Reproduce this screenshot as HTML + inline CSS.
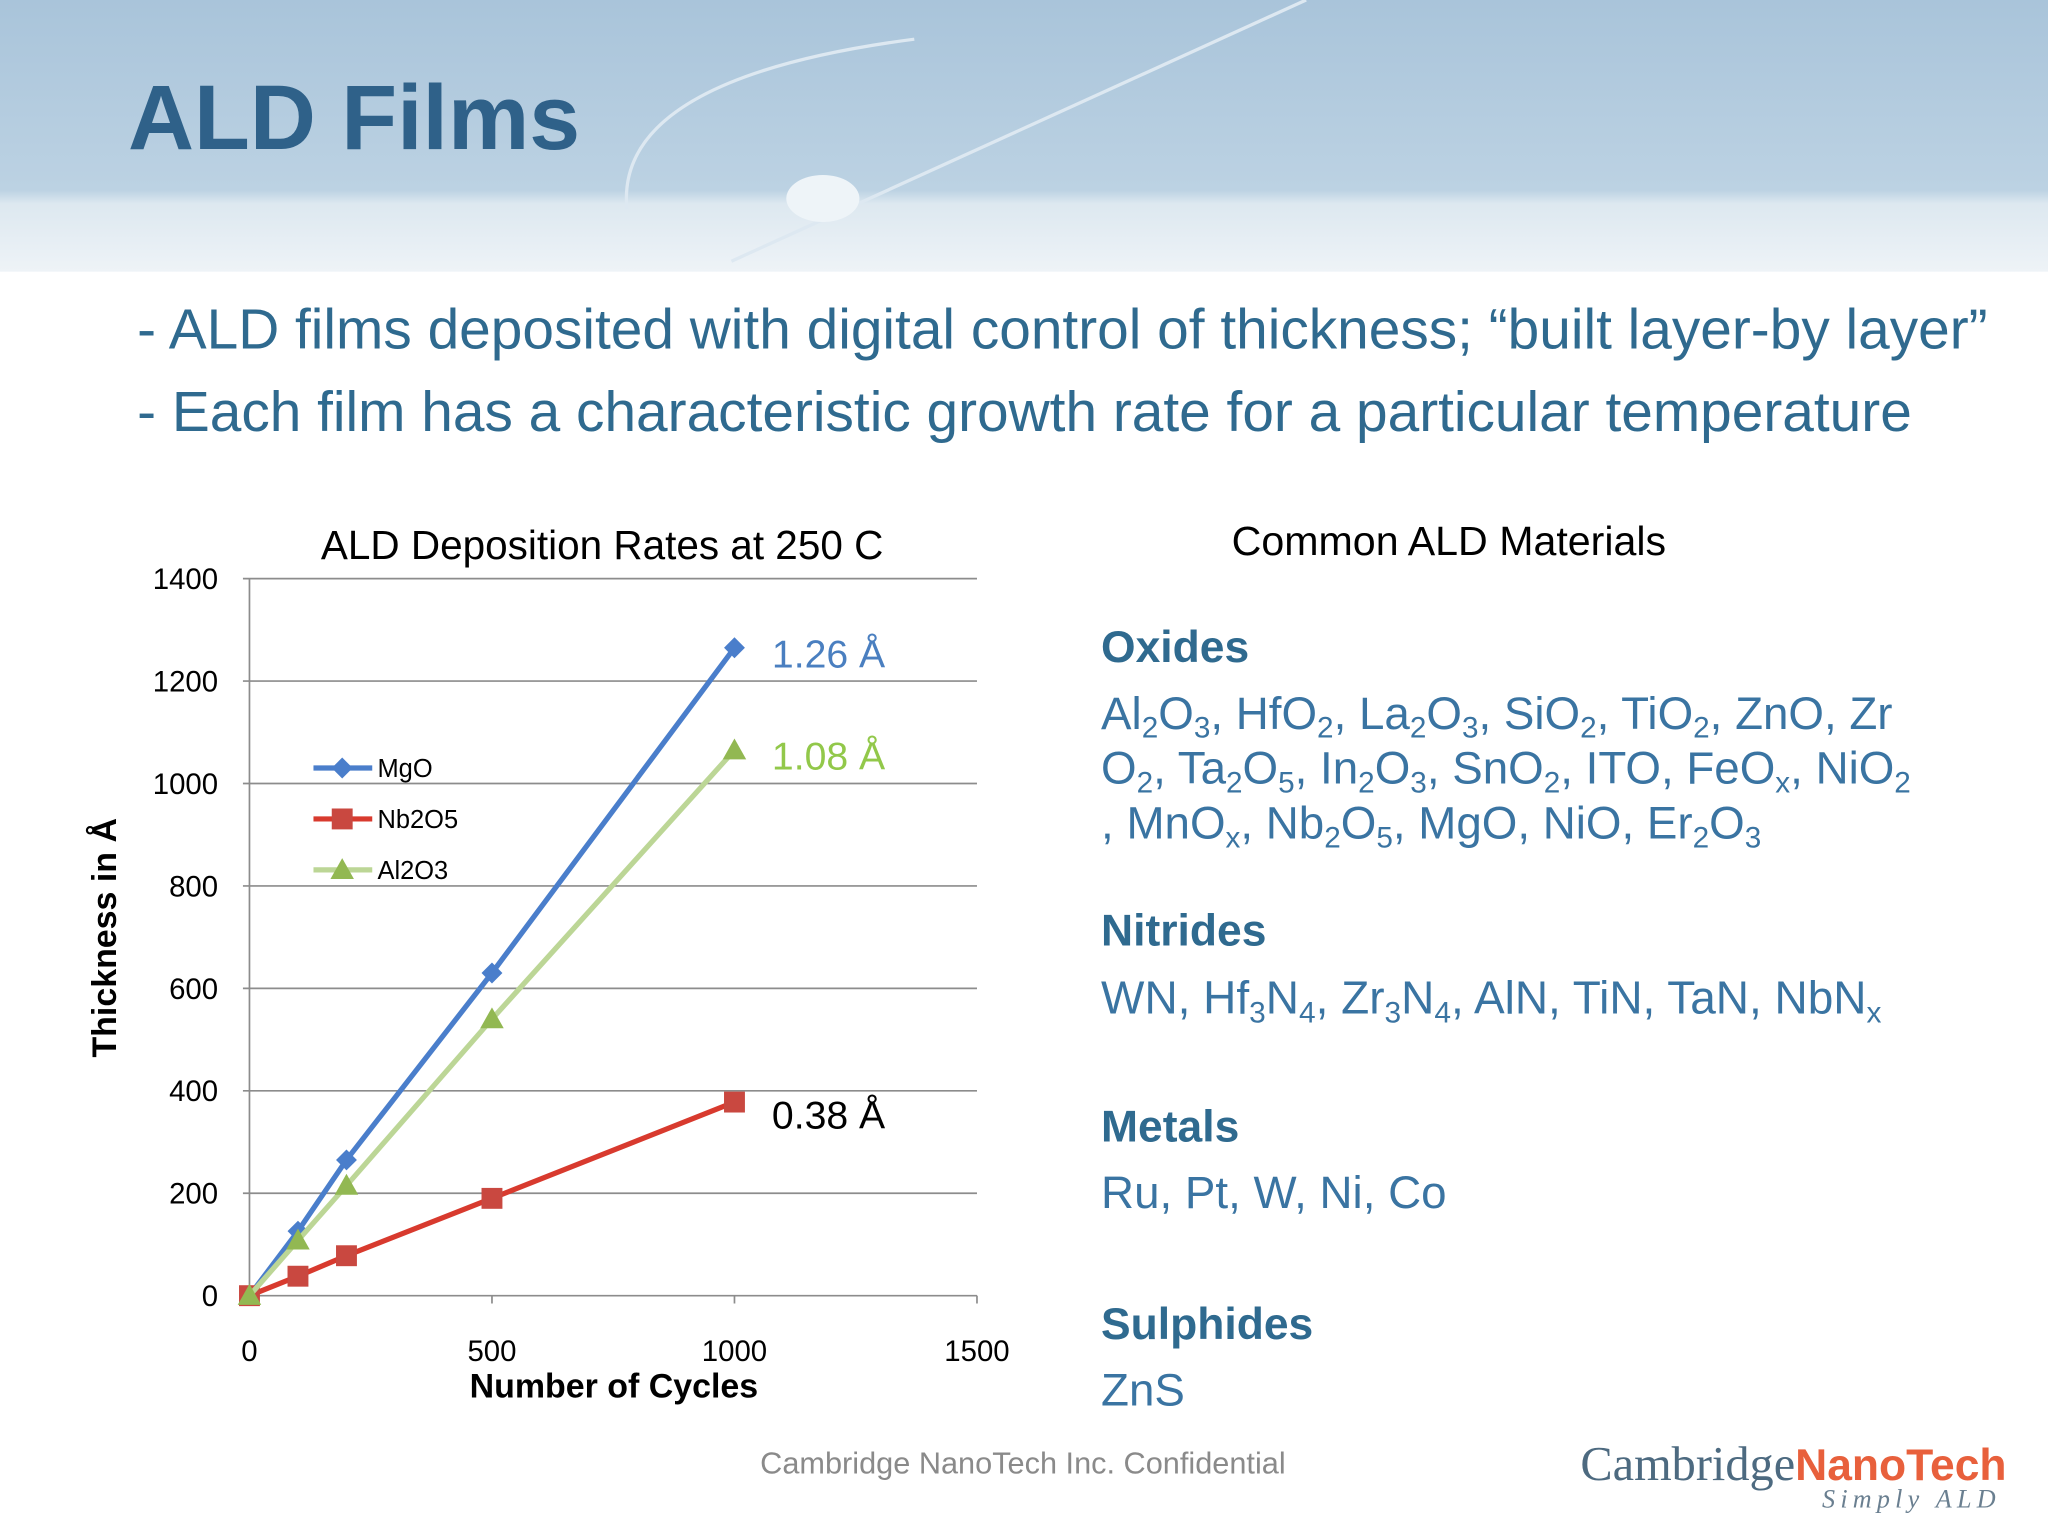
<!DOCTYPE html>
<html><head><meta charset="utf-8"><style>
body{margin:0;width:2048px;height:1536px;overflow:hidden;background:#fff;font-family:"Liberation Sans",sans-serif}
#s{position:absolute;left:0;top:0;width:1568px;height:1176px;transform:scale(1.306122);transform-origin:0 0}
.a{position:absolute;white-space:nowrap}
.h{color:#2f6a8f;font-weight:bold;font-size:34px}
.t{color:#3a74a2;font-size:35px;line-height:42px}
sub{font-size:65%;vertical-align:-0.3em;line-height:0}
</style></head><body>
<div id="s">
<div class="a" style="left:0;top:0;width:1568px;height:208px;background:linear-gradient(180deg,#a9c4da 0%,#bcd2e3 70%,#dde8f0 75%,#eef3f7 100%)"></div>
<svg class="a" style="left:0;top:0" width="1568" height="208">
<path d="M480 160 Q470 60 700 30" stroke="#dde8f1" stroke-width="2.5" fill="none"/>
<path d="M560 200 L1000 0" stroke="#dde8f1" stroke-width="2.5"/>
<ellipse cx="630" cy="152" rx="28" ry="18" fill="#eef4f8"/></svg>
<div class="a" style="left:98px;top:50px;font-size:70px;font-weight:bold;color:#2f6189">ALD Films</div>
<div class="a" style="left:105px;top:229px;font-size:43.5px;color:#2f6a8f">- ALD films deposited with digital control of thickness; “built layer-by layer”</div>
<div class="a" style="left:105px;top:292px;font-size:43.5px;color:#2f6a8f">- Each film has a characteristic growth rate for a particular temperature</div>
<svg id="chart" class="a" style="left:0;top:380px" width="800" height="720"></svg>
<div class="a" style="left:943px;top:396px;font-size:31.5px">Common ALD Materials</div>
<div class="a h" style="left:843px;top:477px">Oxides</div>
<div class="a t" style="left:843px;top:526px">Al<sub>2</sub>O<sub>3</sub>, HfO<sub>2</sub>, La<sub>2</sub>O<sub>3</sub>, SiO<sub>2</sub>, TiO<sub>2</sub>, ZnO, Zr<br>O<sub>2</sub>, Ta<sub>2</sub>O<sub>5</sub>, In<sub>2</sub>O<sub>3</sub>, SnO<sub>2</sub>, ITO, FeO<sub>x</sub>, NiO<sub>2</sub><br>, MnO<sub>x</sub>, Nb<sub>2</sub>O<sub>5</sub>, MgO, NiO, Er<sub>2</sub>O<sub>3</sub></div>
<div class="a h" style="left:843px;top:694px">Nitrides</div>
<div class="a t" style="left:843px;top:744px;font-size:35.2px">WN, Hf<sub>3</sub>N<sub>4</sub>, Zr<sub>3</sub>N<sub>4</sub>, AlN, TiN, TaN, NbN<sub>x</sub></div>
<div class="a h" style="left:843px;top:844px">Metals</div>
<div class="a t" style="left:843px;top:893px">Ru, Pt, W, Ni, Co</div>
<div class="a h" style="left:843px;top:995px">Sulphides</div>
<div class="a t" style="left:843px;top:1044px">ZnS</div>
<div class="a" style="left:582px;top:1107px;font-size:23.5px;color:#8a8a8a">Cambridge NanoTech Inc. Confidential</div>
<div class="a" style="left:1210px;top:1100px;font-family:'Liberation Serif',serif;font-size:37px;color:#4d6a80">Cambridge<span style="color:#e8603c;font-family:'Liberation Sans',sans-serif;font-weight:bold;font-size:34px">NanoTech</span></div>
<div class="a" style="left:1395px;top:1137px;font-family:'Liberation Serif',serif;font-style:italic;font-size:20px;letter-spacing:4px;color:#6a7f90">Simply ALD</div>
</div>
<script>
const cycles=[0,100,200,500,1000];
const mgo=[0,126,265,630,1265];
const nb=[0,38,78,190,378];
const al=[0,108,215,540,1065];
const yTicks=[0,200,400,600,800,1000,1200,1400];
const xTicks=[0,500,1000,1500];
const svg=document.getElementById('chart');const NS='http://www.w3.org/2000/svg';const OY=380;
const X=v=>191+v/1500*557, Y=v=>992-OY-v/1400*549;
function el(t,a,p){const e=document.createElementNS(NS,t);for(const k in a)e.setAttribute(k,a[k]);(p||svg).appendChild(e);return e;}
function txt(x,y,s,a){const e=el('text',Object.assign({x:x,y:y,'font-family':'Liberation Sans, sans-serif'},a));e.textContent=s;return e;}
yTicks.forEach(v=>{const g=el('line',{x1:186,x2:748,y1:Y(v),y2:Y(v),stroke:'#8c8c8c','stroke-width':1.3});


const t=txt(167,Y(v)+8,v,{'font-size':22.5,'text-anchor':'end'});

});
el('line',{x1:191,x2:191,y1:Y(1400),y2:Y(0)+6,stroke:'#8c8c8c','stroke-width':1.3});
xTicks.forEach(v=>{el('line',{x1:X(v),x2:X(v),y1:Y(0),y2:Y(0)+6,stroke:'#8c8c8c','stroke-width':1.3});
const t=txt(X(v),1042-OY,v,{'font-size':22.5,'text-anchor':'middle'});

});
const ct=txt(461,428-OY,'ALD Deposition Rates at 250  C',{'font-size':31,'text-anchor':'middle','xml:space':'preserve'});


const xt=txt(470,1070-OY,'Number of Cycles',{'font-size':26,'font-weight':'bold','text-anchor':'middle'});


const yt=txt(0,0,'Thickness in Å',{'font-size':26,'font-weight':'bold','text-anchor':'middle',transform:'translate(89 '+(718-OY)+') rotate(-90)'});


function marker(shape,x,y,c){if(shape==='d')return el('path',{d:`M${x} ${y-8}L${x+8} ${y}L${x} ${y+8}L${x-8} ${y}Z`,fill:c});
if(shape==='s')return el('rect',{x:x-8,y:y-8,width:16,height:16,fill:c});
return el('path',{d:`M${x} ${y-9}L${x+9} ${y+7}L${x-9} ${y+7}Z`,fill:c});}
const series=[[mgo,'#4a7ecb','d','MgO',588],[nb,'#d83a2e','s','Nb2O5',627],[al,'#bcd696','t','Al2O3',666]];
const mk={mgo:'#4a7ecb',nb:'#c94840',al:'#92b852'};
series.forEach((s,i)=>{const mc=[mk.mgo,mk.nb,mk.al][i];
const p=el('polyline',{points:cycles.map((c,j)=>X(c)+','+Y(s[0][j])).join(' '),fill:'none',stroke:s[1],'stroke-width':4});


cycles.forEach((c,j)=>{const m=marker(s[2],X(c),Y(s[0][j]),mc);

});
const ly=s[4]-OY;el('line',{x1:240,x2:285,y1:ly,y2:ly,stroke:s[1],'stroke-width':4});marker(s[2],262,ly,mc);
const lt=txt(289,ly+7,s[3],{'font-size':19.5});

});
[['1.26 Å',511,'#4a7fc0'],['1.08 Å',589,'#92c84a'],['0.38 Å',864,'#000']].forEach(a=>{const t=txt(591,a[1]-OY,a[0],{'font-size':30,fill:a[2]});

});
</script>
</body></html>
